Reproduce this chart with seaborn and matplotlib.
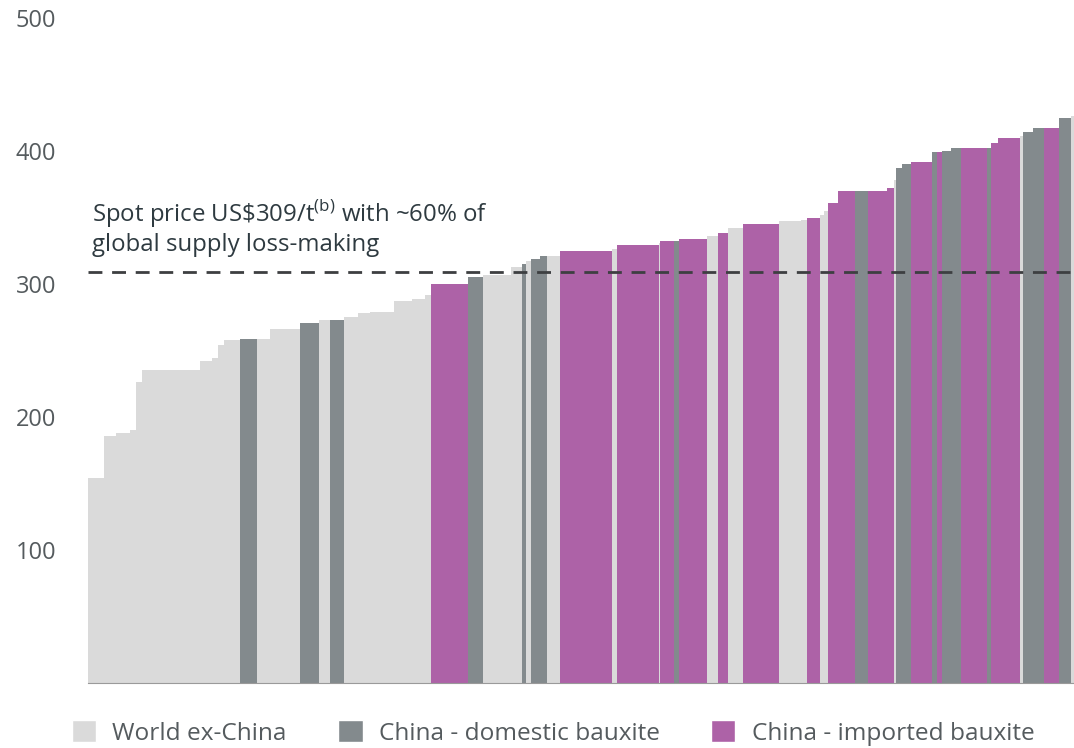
import numpy as np
import pandas as pd
import seaborn as sns
import matplotlib.pyplot as plt
from matplotlib.patches import Patch

# cost curve data, sorted by cost (capacity in arbitrary units, cost in US$/t)
capacity = [16, 12, 14, 6, 6, 58, 12, 6, 6, 16, 17, 13, 30, 19, 11, 14, 14, 12, 24, 18,
            13, 6, 37, 15, 28, 11, 4, 5, 9, 7, 13, 51, 5, 42, 1.5, 13.5, 5, 28, 11, 10,
            15, 36, 22, 6, 13, 4, 4, 10, 17, 13, 19, 7, 2, 6, 9, 21, 5, 5, 9, 10,
            26, 4, 7, 22, 3, 10, 11, 15, 12, 3]
cost = [154, 186, 188, 190, 226, 235, 242, 244, 254, 258, 259, 259, 266, 271, 273, 273, 275, 278, 279, 287,
        289, 292, 300, 305, 307, 313, 315, 317, 319, 321, 321, 325, 326, 329, 331, 332, 332, 334, 336, 338,
        342, 345, 347, 348, 350, 352, 355, 361, 370, 370, 370, 372, 378, 387, 390, 392, 399, 399, 400, 402,
        402, 402, 406, 410, 411, 414, 417, 417, 425, 426]
region = ["W", "W", "W", "W", "W", "W", "W", "W", "W", "W", "D", "W", "W", "D", "W", "D", "W", "W", "W", "W",
          "W", "W", "P", "D", "W", "W", "D", "W", "D", "D", "W", "P", "W", "P", "W", "P", "D", "P", "W", "P",
          "W", "P", "W", "W", "P", "W", "W", "P", "P", "D", "P", "P", "W", "D", "D", "P", "D", "P", "D", "D",
          "P", "D", "P", "P", "W", "D", "D", "P", "D", "W"]

names = {"W": "World ex-China", "D": "China - domestic bauxite", "P": "China - imported bauxite"}
colors = {"World ex-China": "#dadada", "China - domestic bauxite": "#838a8d",
          "China - imported bauxite": "#ad62a7"}
spot_price = 309

edges = np.concatenate([[0], np.cumsum(capacity)])
df = pd.DataFrame({
    "mid": (edges[:-1] + edges[1:]) / 2,
    "cost": cost,
    "group": [names[r] for r in region],
})

sns.set_style("white")
plt.rcParams["font.family"] = ["Open Sans", "DejaVu Sans"]
plt.rcParams["mathtext.fontset"] = "custom"
plt.rcParams["mathtext.rm"] = "Open Sans"

fig = plt.figure(figsize=(10.74, 7.48), dpi=100)
ax = fig.add_axes([88 / 1074, 65 / 748, 986 / 1074, 665 / 748])

sns.histplot(data=df, x="mid", weights="cost", bins=[float(e) for e in edges], hue="group",
             hue_order=list(colors), palette=colors, multiple="layer",
             alpha=1, linewidth=0, legend=False, ax=ax)

ax.axhline(spot_price, color="#3d3f41", lw=2, ls=(0, (5, 3.5)), zorder=5)
ax.text(4, 320, "Spot price US\\$309/t$^{\\mathrm{(b)}}$ with ~60% of\nglobal supply loss-making",
        fontsize=17.3, color="#2e3a40", va="bottom", ha="left", linespacing=1.2)

ax.set_xlim(0, edges[-1])
ax.set_ylim(0, 500)
ax.set_yticks([100, 200, 300, 400, 500])
ax.set_xticks([])
ax.set_xlabel("")
ax.set_ylabel("")
ax.tick_params(axis="y", length=0, pad=23, labelsize=17, labelcolor="#555b5e")
for s in ["top", "right", "left"]:
    ax.spines[s].set_visible(False)
ax.spines["bottom"].set_color("#9a9a9a")
ax.spines["bottom"].set_linewidth(0.8)

handles = [Patch(facecolor=c, label=k) for k, c in colors.items()]
fig.legend(handles=handles, loc="center", bbox_to_anchor=(0.515, 0.02), ncol=3,
           frameon=False, fontsize=17.6, handlelength=1.0, handleheight=1.0,
           handletextpad=0.66, columnspacing=2.1, labelcolor="#555b5e")

fig.savefig("out.png", dpi=100)
